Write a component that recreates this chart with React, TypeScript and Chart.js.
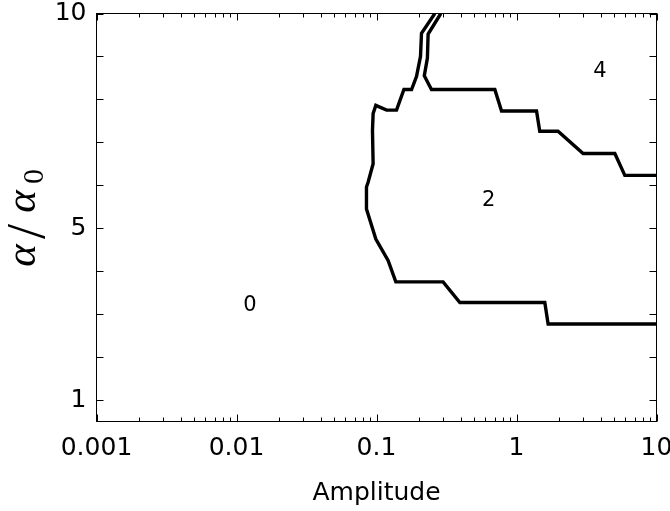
import React, { useEffect, useRef } from "react";
import { Chart, registerables } from "chart.js";

Chart.register(...registerables);

// Contour separating region "0" from region "2"
const boundary02X = [0.261, 0.2096, 0.2062, 0.193, 0.178, 0.157, 0.139, 0.118, 0.0989, 0.0946, 0.0936, 0.0946, 0.0871, 0.0848, 0.0848, 0.0989, 0.121, 0.1374, 0.299, 0.394, 1.593, 1.682, 10];
const boundary02Y = [10, 9.54, 9.0, 8.53, 8.23, 8.23, 7.75, 7.75, 7.86, 7.67, 7.28, 6.5, 6.07, 5.96, 5.45, 4.75, 4.25, 3.75, 3.75, 3.27, 3.27, 2.77, 2.77];

// Contour separating region "2" from region "4"
const boundary24X = [0.288, 0.2337, 0.231, 0.2195, 0.247, 0.7, 0.782, 1.39, 1.466, 1.98, 2.99, 5.04, 5.94, 10];
const boundary24Y = [10, 9.52, 8.96, 8.55, 8.23, 8.23, 7.73, 7.73, 7.26, 7.26, 6.74, 6.74, 6.23, 6.23];

// Region labels
const regionLabels = ["0", "2", "4"];
const regionLabelX = [0.01245, 0.634, 3.94];
const regionLabelY = [3.22, 5.67, 8.68];

// Axes
const xMin = 0.001;
const xMax = 10;
const yMin = 0.5;
const yMax = 10;
const xTickValues = [0.001, 0.01, 0.1, 1, 10];
const xTickLabels = ["0.001", "0.01", "0.1", "1", "10"];
const yTickValues = [1, 5, 10];
const yTickLabels = ["1", "5", "10"];
const yTickMarks = [1, 2, 3, 4, 5, 6, 7, 8, 9, 10];
const xMinorMultipliers = [2, 3, 4, 5, 6, 7, 8, 9];
const xTitle = "Amplitude";

const toPoints = (xs: number[], ys: number[]) => xs.map((x, i) => ({ x, y: ys[i] }));

const framePlugin = {
  id: "framePlugin",
  afterDatasetsDraw(chart: any) {
    const { ctx, chartArea } = chart;
    const xs = chart.scales.x;
    const ys = chart.scales.y;
    const { left, right, top, bottom } = chartArea;
    ctx.save();
    ctx.strokeStyle = "#000";
    ctx.lineWidth = 1;
    ctx.strokeRect(left, top, right - left, bottom - top);

    const majorLen = 7;
    const minorLen = 4;
    ctx.beginPath();
    for (const dec of xTickValues) {
      const xs0 = Math.round(xs.getPixelForValue(dec)) + 0.5;
      ctx.moveTo(xs0, bottom);
      ctx.lineTo(xs0, bottom - majorLen);
      ctx.moveTo(xs0, top);
      ctx.lineTo(xs0, top + majorLen);
      if (dec < xMax) {
        for (const m of xMinorMultipliers) {
          const v = dec * m;
          if (v > xMax) continue;
          const px = Math.round(xs.getPixelForValue(v)) + 0.5;
          ctx.moveTo(px, bottom);
          ctx.lineTo(px, bottom - minorLen);
          ctx.moveTo(px, top);
          ctx.lineTo(px, top + minorLen);
        }
      }
    }
    for (const v of yTickMarks) {
      const py = Math.round(ys.getPixelForValue(v)) + 0.5;
      ctx.moveTo(left, py);
      ctx.lineTo(left + majorLen, py);
      ctx.moveTo(right, py);
      ctx.lineTo(right - majorLen, py);
    }
    ctx.stroke();

    // region labels
    ctx.fillStyle = "#000";
    ctx.font = '21px "DejaVu Sans"';
    ctx.textAlign = "center";
    ctx.textBaseline = "middle";
    regionLabels.forEach((t, i) => {
      ctx.fillText(t, xs.getPixelForValue(regionLabelX[i]), ys.getPixelForValue(regionLabelY[i]) + 1);
    });

    // y axis title: alpha / alpha_0 (rotated)
    const cy = (top + bottom) / 2 + 1;
    ctx.translate(35, cy);
    ctx.rotate(-Math.PI / 2);
    ctx.textAlign = "center";
    ctx.textBaseline = "alphabetic";
    ctx.font = 'italic 43px "Liberation Serif"';
    ctx.fillText("α", -37, 0);
    ctx.font = '54px "Liberation Serif"';
    ctx.fillText("/", -13, 9);
    ctx.font = 'italic 43px "Liberation Serif"';
    ctx.fillText("α", 17, 0);
    ctx.font = '30px "Liberation Serif"';
    ctx.fillText("0", 42, 8);
    ctx.restore();
  },
};

export default function App() {
  const canvasRef = useRef<HTMLCanvasElement | null>(null);

  useEffect(() => {
    if (!canvasRef.current) return;
    const tickFont = { family: "DejaVu Sans", size: 25 };
    const chart = new Chart(canvasRef.current, {
      type: "line",
      data: {
        datasets: [
          {
            data: toPoints(boundary02X, boundary02Y),
            borderColor: "#000",
            borderWidth: 3.4,
            pointRadius: 0,
            tension: 0,
            fill: false,
          },
          {
            data: toPoints(boundary24X, boundary24Y),
            borderColor: "#000",
            borderWidth: 3.4,
            pointRadius: 0,
            tension: 0,
            fill: false,
          },
        ],
      },
      options: {
        animation: false,
        responsive: false,
        devicePixelRatio: 1,
        parsing: false as any,
        layout: { padding: { top: 13.5, right: 13.5, left: 0, bottom: 0 } },
        plugins: { legend: { display: false }, tooltip: { enabled: false } },
        scales: {
          x: {
            type: "logarithmic",
            position: "bottom",
            min: xMin,
            max: xMax,
            grid: { display: false, drawTicks: false },
            border: { display: false },
            ticks: {
              color: "#000",
              font: tickFont,
              padding: 12,
              autoSkip: false,
              maxRotation: 0,
              callback: (v: any) => {
                const i = xTickValues.findIndex((t) => Math.abs(t - v) / t < 1e-6);
                return i >= 0 ? xTickLabels[i] : "";
              },
            },
            afterBuildTicks: (s: any) => {
              s.ticks = xTickValues.map((v) => ({ value: v }));
            },
            afterFit: (s: any) => {
              s.height = 89.5;
              s.paddingLeft = 0;
              s.paddingRight = 0;
            },
            title: {
              display: true,
              text: xTitle,
              color: "#000",
              font: { family: "DejaVu Sans", size: 25 },
              padding: { top: 0, bottom: 3 },
            },
          },
          y: {
            type: "linear",
            min: yMin,
            max: yMax,
            grid: { display: false, drawTicks: false },
            border: { display: false },
            ticks: {
              color: "#000",
              font: tickFont,
              padding: 10,
              autoSkip: false,
              callback: (v: any) => {
                const i = yTickValues.indexOf(v);
                return i >= 0 ? yTickLabels[i] : "";
              },
            },
            afterBuildTicks: (s: any) => {
              s.ticks = yTickValues.map((v) => ({ value: v }));
            },
            afterFit: (s: any) => {
              s.width = 96.5;
              s.paddingTop = 0;
              s.paddingBottom = 0;
            },
          },
        },
      },
      plugins: [framePlugin],
    } as any);
    return () => chart.destroy();
  }, []);

  return (
    <div style={{ position: "absolute", left: 0, top: 0, width: 670, height: 511, background: "#fff" }}>
      <canvas ref={canvasRef} width={670} height={511} style={{ display: "block" }} />
    </div>
  );
}
